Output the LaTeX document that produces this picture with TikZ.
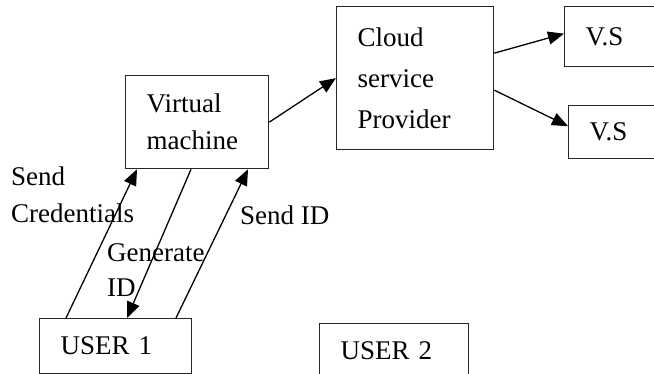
\documentclass[tikz,border=0pt]{standalone}
\usepackage{fontspec}
\setmainfont{Liberation Serif}
\usetikzlibrary{arrows.meta}

\begin{document}
\begin{tikzpicture}[x=1pt,y=-1pt,>={Triangle[length=16pt,width=13pt]},
  font=\fontsize{27}{37}\selectfont,
  box/.style={draw=black!85,line width=1.3pt,anchor=north west,align=left,inner xsep=21pt,inner ysep=0pt},
  lbl/.style={anchor=west,align=left,inner sep=0pt},
  link/.style={->,line width=1.3pt}]
\clip (0,0) rectangle (654,374);
% caselle
\node[box,text width=101pt,minimum height=93pt] (vm) at (125,75) {Virtual\\machine};
\node[box,text width=115pt,minimum height=143pt,font=\fontsize{27}{41}\selectfont] (csp) at (336,6) {Cloud\\service\\Provider};
\node[box,text width=68pt,minimum height=60pt] (vsa) at (564,6) {V.S};
\node[box,text width=68pt,minimum height=53pt] (vsb) at (568,105) {V.S};
\node[box,text width=110pt,minimum height=55pt] (userA) at (39,318) {USER 1};
\node[box,text width=107pt,minimum height=55pt] (userB) at (319,323) {USER 2};
% frecce in alto
\draw[link] (vm.east) -- (csp.west);
\draw[link] ([yshift=25pt]csp.east) -- ([yshift=3pt]vsa.west);
\draw[link] ([yshift=-12pt]csp.east) -- ([yshift=6pt]vsb.west);
% frecce tra utente e macchina
\draw[link] ([xshift=27pt]userA.north west) -- ([xshift=12pt]vm.south west);
\draw[link] ([xshift=66pt]vm.south west) -- ([xshift=88pt]userA.north west);
\draw[link] ([xshift=137pt]userA.north west) -- ([xshift=123pt]vm.south west);
% etichette
\node[lbl] (sendcred) at (11,195) {Send\\Credentials};
\node[lbl,font=\fontsize{27}{35}\selectfont] (genid) at (107,270) {Generate\\ID};
\node[lbl] (sendid) at (240,215) {Send ID};
\end{tikzpicture}
\end{document}
